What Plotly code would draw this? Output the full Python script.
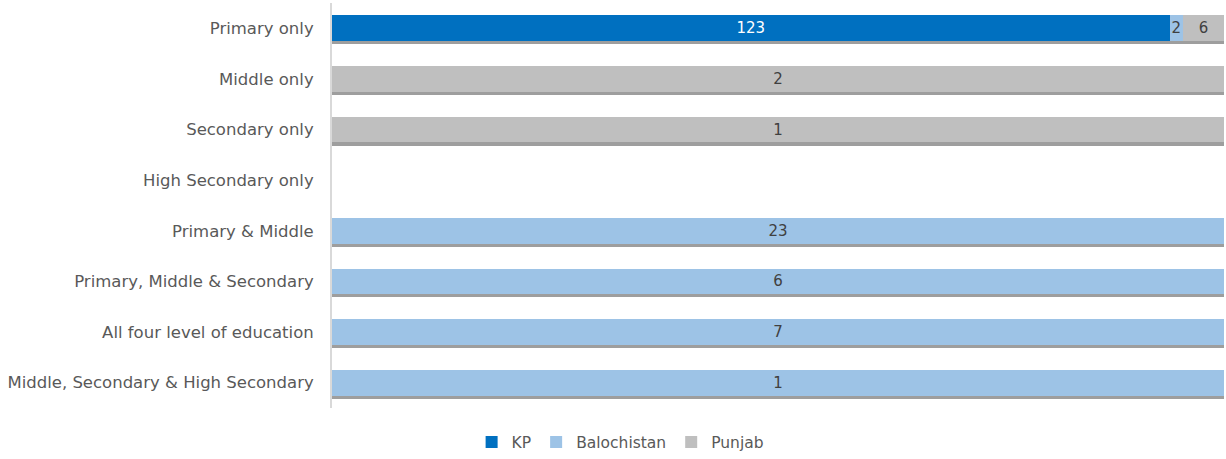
import plotly.graph_objects as go

categories = ["Primary only", "Middle only", "Secondary only", "High Secondary only",
              "Primary & Middle", "Primary, Middle & Secondary",
              "All four level of education", "Middle, Secondary & High Secondary"]
kp = [123, 0, 0, 0, 0, 0, 0, 0]
balochistan = [2, 0, 0, 0, 23, 6, 7, 1]
punjab = [6, 2, 1, 0, 0, 0, 0, 0]

series = [("KP", kp, "#0070C0"), ("Balochistan", balochistan, "#9DC3E6"), ("Punjab", punjab, "#BFBFBF")]

FONT = "DejaVu Sans"
TXT = "#595959"
BW = 0.51

fig = go.Figure()

# subtle drop shadow under each bar
totals = [a + b + c for a, b, c in zip(kp, balochistan, punjab)]
shadow = [100 if t > 0 else 0 for t in totals]
fig.add_trace(go.Bar(y=categories, x=shadow, orientation="h", width=BW,
                     offset=-BW / 2 + 0.06, marker=dict(color="rgba(0,0,0,0.38)", line=dict(width=0)),
                     showlegend=False, hoverinfo="skip", xaxis="x", yaxis="y"))

for name, vals, color in series:
    fig.add_trace(go.Bar(
        y=categories, x=[v if v else None for v in vals], orientation="h", name=name,
        width=BW, marker=dict(color=color, line=dict(width=0)),
        text=[str(v) if v else "" for v in vals], textposition="inside",
        insidetextanchor="middle", textangle=0, constraintext="none",
        textfont=dict(family=FONT, size=15, color="#404040" if name != "KP" else "white"),
        xaxis="x2", yaxis="y2"))

yax = dict(categoryorder="array", categoryarray=categories, autorange="reversed",
           showgrid=False, ticks="", ticklen=0, automargin=False)
fig.update_layout(
    width=1226, height=459,
    barmode="stack", barnorm="percent",
    paper_bgcolor="white", plot_bgcolor="white",
    margin=dict(l=332, r=2, t=3, b=51, autoexpand=False),
    font=dict(family=FONT, size=16, color=TXT),
    xaxis=dict(range=[0, 100], showticklabels=False, showgrid=False, zeroline=False, automargin=False),
    yaxis=dict(**yax, showline=True, linecolor="#D9D9D9", linewidth=2, ticklabelstandoff=13,
               tickfont=dict(family=FONT, size=16.5, color=TXT)),
    xaxis2=dict(range=[0, 100], overlaying="x", matches="x", showticklabels=False,
                showgrid=False, zeroline=False, automargin=False),
    yaxis2=dict(**yax, overlaying="y", matches="y", showticklabels=False, showline=False),
    legend=dict(orientation="h", x=0.323, xanchor="center",
                y=-0.085, yanchor="middle",
                font=dict(family=FONT, size=15.5, color=TXT), itemwidth=30, traceorder="normal"),
)

fig.write_html("out.html", config={"displayModeBar": False},
               post_script="document.body.style.margin='0';document.body.style.overflow='hidden';")
